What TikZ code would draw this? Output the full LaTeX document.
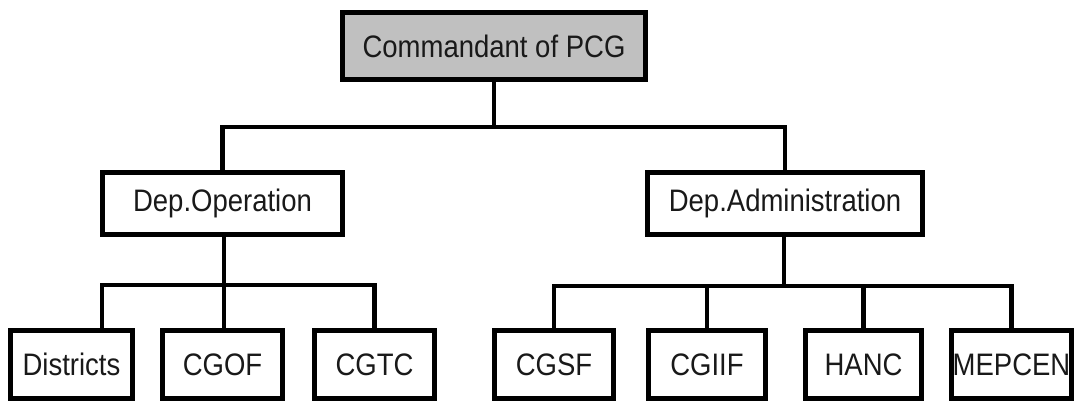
\documentclass[tikz,border=0pt]{standalone}
\usepackage{fontspec}
\usepackage{graphicx}
\setmainfont{Liberation Sans}
\newcommand{\tallt}[1]{\scalebox{1}[1.13]{#1}}
\begin{document}
\begin{tikzpicture}[x=1pt,y=-1pt,
  box/.style={draw=black, line width=5pt, fill=white, inner sep=0pt, line join=miter,
    font=\fontsize{27.5}{32}\selectfont, text=black!90},
  topbox/.style={box, fill=topgray},
  lowbox/.style={box, minimum height=68pt},
  conn/.style={draw=black, line width=4.6pt, line join=miter}]
\definecolor{topgray}{HTML}{C0C0C0}
\useasboundingbox (0,0) rectangle (1075,405);
% nodes
\node[topbox, minimum width=303pt, minimum height=67pt] (top) at (494,46) {\tallt{Commandant of PCG}};
\node[box, minimum width=240pt, minimum height=62pt] (depop) at (222.5,203.5) {\tallt{Dep.Operation}};
\node[box, minimum width=275pt, minimum height=62pt] (depadm) at (785,203.5) {\tallt{Dep.Administration}};
\node[lowbox, minimum width=122pt] (districts) at (71.5,364.5) {\tallt{Districts}};
\node[lowbox, minimum width=120pt] (cgof) at (222.5,364.5) {\tallt{CGOF}};
\node[lowbox, minimum width=120pt] (cgtc) at (374.5,364.5) {\tallt{CGTC}};
\node[lowbox, minimum width=119pt] (cgsf) at (554,364.5) {\tallt{CGSF}};
\node[lowbox, minimum width=117pt] (cgiif) at (707,364.5) {\tallt{CGIIF}};
\node[lowbox, minimum width=116pt] (hanc) at (863.5,364.5) {\tallt{HANC}};
\node[lowbox, minimum width=120pt] (mepcen) at (1011.5,364.5) {\tallt{MEPCEN}};
% bus coordinates
\coordinate (busA) at (494,127);
\coordinate (busB) at (224,285);
\coordinate (busC) at (784,286);
\coordinate (distin) at (102,330);
% top level connectors
\draw[conn] (top.south) -- (busA);
\draw[conn] (depop.north) |- (busA) -| (depadm.north);
% operations
\draw[conn] ([xshift=1.5pt]depop.south) -- (busB);
\draw[conn] (distin) |- (busB) -| (cgtc.north);
\draw[conn] ([xshift=1.5pt]cgof.north) -- ([xshift=1.5pt]cgof.north |- busB);
% administration
\draw[conn] ([xshift=-1pt]depadm.south) -- (busC);
\draw[conn] (cgsf.north) |- (busC) -| (mepcen.north);
\draw[conn] (cgiif.north) -- (cgiif.north |- busC);
\draw[conn] (hanc.north) -- (hanc.north |- busC);
\end{tikzpicture}
\end{document}
